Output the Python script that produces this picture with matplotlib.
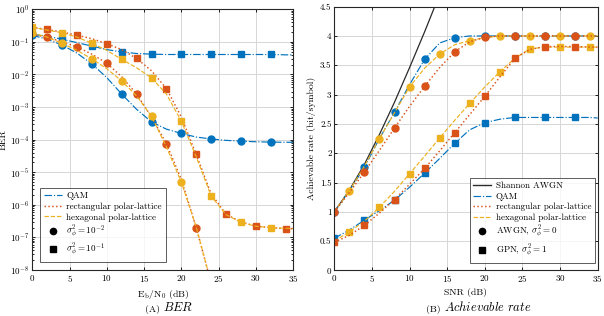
import numpy as np
import matplotlib
matplotlib.use("Agg")
import matplotlib.pyplot as plt
from matplotlib.lines import Line2D
from matplotlib.ticker import FormatStrFormatter, LogLocator, NullFormatter

plt.rcParams['font.family'] = ['cmr10', 'DejaVu Serif']
plt.rcParams['mathtext.fontset'] = 'cm'
plt.rcParams['axes.formatter.use_mathtext'] = True
plt.rcParams['axes.unicode_minus'] = False

# ---------------- data: BER panel ----------------
ebn0 = [0, 2, 4, 6, 8, 10, 12, 14, 16, 18, 20, 22, 24, 26, 28, 30, 32, 34, 35]
ber_qam_1e2 = [0.16, 0.12, 0.08, 0.045, 0.021, 8e-3, 2.5e-3, 8.5e-4, 3.5e-4, 2.1e-4,
               1.55e-4, 1.2e-4, 1.05e-4, 9.5e-5, 9e-5, 8.6e-5, 8.4e-5, 8.3e-5, 8.3e-5]
ber_qam_1e1 = [0.17, 0.15, 0.12, 0.095, 0.074, 0.058, 0.049, 0.044, 0.042, 0.041,
               0.041, 0.041, 0.041, 0.041, 0.041, 0.041, 0.041, 0.04, 0.04]
ber_rect_1e2 = [0.17, 0.14, 0.1, 0.07, 0.042, 0.022, 8.5e-3, 2.5e-3, 5e-4, 7.5e-5,
                6e-6, 2e-7, 4e-9, np.nan, np.nan, np.nan, np.nan, np.nan, np.nan]
ber_hex_1e2 = [0.19, 0.14, 0.09, 0.055, 0.03, 0.015, 6.3e-3, 2.2e-3, 5.2e-4, 6e-5,
               5e-6, 2.1e-7, 4e-9, np.nan, np.nan, np.nan, np.nan, np.nan, np.nan]
ber_rect_1e1 = [0.28, 0.24, 0.2, 0.16, 0.125, 0.088, 0.058, 0.031, 0.013, 3.7e-3,
                5e-4, 3.5e-5, 2.2e-6, 5.1e-7, 3e-7, 2.2e-7, 2e-7, 1.85e-7, 1.85e-7]
ber_hex_1e1 = [0.28, 0.23, 0.19, 0.14, 0.09, 0.055, 0.029, 0.016, 7.9e-3, 2.5e-3,
               3.7e-4, 3e-5, 1.87e-6, 5e-7, 2.9e-7, 2.2e-7, 2e-7, 1.9e-7, 1.9e-7]

# ---------------- data: achievable-rate panel ----------------
snr = [0, 2, 4, 6, 8, 10, 12, 14, 16, 18, 20, 22, 24, 26, 28, 30, 32, 34, 35]
shannon_snr = [0, 2, 4, 6, 8, 10, 12, 14]
shannon_rate = [1.0, 1.37, 1.81, 2.32, 2.87, 3.46, 4.07, 4.71]
rate_qam_awgn = [1.0, 1.36, 1.76, 2.25, 2.70, 3.17, 3.6, 3.88, 3.97, 4.0,
                 4.0, 4.0, 4.0, 4.0, 4.0, 4.0, 4.0, 4.0, 4.0]
rate_rect_awgn = [1.0, 1.33, 1.68, 2.05, 2.43, 2.8, 3.14, 3.46, 3.73, 3.9,
                  3.98, 4.0, 4.0, 4.0, 4.0, 4.0, 4.0, 4.0, 4.0]
rate_hex_awgn = [1.0, 1.36, 1.78, 2.25, 2.69, 3.13, 3.45, 3.69, 3.85, 3.92,
                 3.97, 4.0, 4.0, 4.0, 4.0, 4.0, 4.0, 4.0, 4.0]
rate_qam_gpn = [0.55, 0.69, 0.86, 1.02, 1.2, 1.42, 1.66, 1.91, 2.17, 2.4,
                2.52, 2.58, 2.61, 2.61, 2.61, 2.61, 2.61, 2.61, 2.6]
rate_rect_gpn = [0.48, 0.6, 0.77, 0.98, 1.21, 1.47, 1.74, 2.04, 2.35, 2.66,
                 2.97, 3.3, 3.62, 3.77, 3.82, 3.82, 3.82, 3.81, 3.81]
rate_hex_gpn = [0.5, 0.66, 0.84, 1.08, 1.35, 1.65, 1.95, 2.26, 2.56, 2.85,
                3.13, 3.39, 3.62, 3.78, 3.81, 3.81, 3.81, 3.81, 3.81]

C_QAM = '#0072BD'
C_RECT = '#D95319'
C_HEX = '#EDB120'

fig = plt.figure(figsize=(6.04, 3.16), dpi=100)
ax1 = fig.add_axes([0.0535, 0.1456, 0.4317, 0.825])
ax2 = fig.add_axes([0.5535, 0.144, 0.436, 0.835])

ms_s = 4.6
ms_c = 5.0
lw = 0.85
def idx(xs, marks):
    return [xs.index(m) for m in marks]

# BER curves
ax1.plot(ebn0, ber_qam_1e1, color=C_QAM, ls='-.', lw=lw, marker='s', ms=ms_s,
         markevery=idx(ebn0, [0, 4, 8, 12, 16, 20, 24, 28, 32]))
ax1.plot(ebn0, ber_rect_1e1, color=C_RECT, ls=':', lw=lw+0.2, marker='s', ms=ms_s,
         markevery=idx(ebn0, [2, 6, 10, 14, 18, 22, 26, 30, 34]))
ax1.plot(ebn0, ber_hex_1e1, color=C_HEX, ls='--', lw=lw, marker='s', ms=ms_s,
         markevery=idx(ebn0, [0, 4, 8, 12, 16, 20, 24, 28, 32]))
ax1.plot(ebn0, ber_qam_1e2, color=C_QAM, ls='-.', lw=lw, marker='o', ms=ms_c,
         markevery=idx(ebn0, [0, 4, 8, 12, 16, 20, 24, 28, 32]))
ax1.plot(ebn0, ber_rect_1e2, color=C_RECT, ls=':', lw=lw+0.2, marker='o', ms=ms_c,
         markevery=idx(ebn0, [2, 6, 10, 14, 18, 22]))
ax1.plot(ebn0, ber_hex_1e2, color=C_HEX, ls='--', lw=lw, marker='o', ms=ms_c,
         markevery=idx(ebn0, [0, 4, 8, 12, 16, 20]))

ax1.set_yscale('log')
ax1.set_xlim(0, 35)
ax1.set_ylim(1e-8, 1)
ax1.set_xticks([0, 5, 10, 15, 20, 25, 30, 35])
ax1.yaxis.set_major_locator(LogLocator(base=10, numticks=20))
ax1.yaxis.set_minor_locator(LogLocator(base=10, subs=np.arange(2, 10), numticks=100))
ax1.yaxis.set_minor_formatter(NullFormatter())
ax1.set_xlabel(r'$\mathrm{E_b/N_0}$ (dB)', fontsize=7, labelpad=3)
ax1.set_ylabel('BER', fontsize=7, labelpad=2)

# Rate curves
ax2.plot(shannon_snr, shannon_rate, color='#2a2a2a', ls='-', lw=0.9)
ax2.plot(snr, rate_qam_awgn, color=C_QAM, ls='-.', lw=lw, marker='o', ms=ms_c,
         markevery=idx(snr, [0, 4, 8, 12, 16, 20, 24, 28, 32]))
ax2.plot(snr, rate_hex_awgn, color=C_HEX, ls='--', lw=lw, marker='o', ms=ms_c,
         markevery=idx(snr, [2, 6, 10, 14, 18, 22, 26, 30, 34]))
ax2.plot(snr, rate_rect_awgn, color=C_RECT, ls=':', lw=lw+0.2, marker='o', ms=ms_c,
         markevery=idx(snr, [0, 4, 8, 12, 16, 20, 24, 28, 32]))
ax2.plot(snr, rate_qam_gpn, color=C_QAM, ls='-.', lw=lw, marker='s', ms=ms_s,
         markevery=idx(snr, [0, 4, 8, 12, 16, 20, 24, 28, 32]))
ax2.plot(snr, rate_hex_gpn, color=C_HEX, ls='--', lw=lw, marker='s', ms=ms_s,
         markevery=idx(snr, [2, 6, 10, 14, 18, 22, 26, 30, 34]))
ax2.plot(snr, rate_rect_gpn, color=C_RECT, ls=':', lw=lw+0.2, marker='s', ms=ms_s,
         markevery=idx(snr, [0, 4, 8, 12, 16, 20, 24, 28, 32]))

ax2.set_xlim(0, 35)
ax2.set_ylim(0, 4.5)
ax2.set_xticks([0, 5, 10, 15, 20, 25, 30, 35])
ax2.set_yticks(np.arange(0, 4.51, 0.5))
ax2.yaxis.set_major_formatter(FormatStrFormatter('%g'))
ax2.set_xlabel('SNR (dB)', fontsize=7, labelpad=3)
ax2.set_ylabel('Achievable rate (bit/symbol)', fontsize=7, labelpad=3)

for ax in (ax1, ax2):
    ax.grid(True, which='major', color='#d6d6d6', lw=0.7)
    ax.set_axisbelow(True)
    ax.tick_params(which='both', direction='in', top=True, right=True, labelsize=6.5,
                   length=2.5, width=0.6, pad=2)
    ax.tick_params(which='minor', length=1.5)
    for s in ax.spines.values():
        s.set_color('#262626')
        s.set_linewidth(0.8)

# legends
h_left = [
    Line2D([], [], color=C_QAM, ls='-.', lw=lw),
    Line2D([], [], color=C_RECT, ls=':', lw=lw+0.2),
    Line2D([], [], color=C_HEX, ls='--', lw=lw),
    Line2D([], [], color='black', ls='none', marker='o', ms=ms_c - 0.5),
    Line2D([], [], color='black', ls='none', marker='s', ms=ms_s - 0.6),
]
l_left = ['QAM', 'rectangular polar-lattice', 'hexagonal polar-lattice',
          r'$\sigma_\phi^2 = 10^{-2}$', r'$\sigma_\phi^2 = 10^{-1}$']
leg1 = ax1.legend(h_left, l_left, loc='lower left', bbox_to_anchor=(0.02, 0.02),
                  fontsize=6.5, frameon=True, fancybox=False, edgecolor='#333333',
                  handlelength=2.0, handletextpad=0.5, labelspacing=0.25,
                  borderpad=0.4, borderaxespad=0.3)
leg1.get_frame().set_linewidth(0.7)

h_right = [
    Line2D([], [], color='#2a2a2a', ls='-', lw=1.0),
    Line2D([], [], color=C_QAM, ls='-.', lw=lw),
    Line2D([], [], color=C_RECT, ls=':', lw=lw+0.2),
    Line2D([], [], color=C_HEX, ls='--', lw=lw),
    Line2D([], [], color='black', ls='none', marker='o', ms=ms_c - 0.5),
    Line2D([], [], color='black', ls='none', marker='s', ms=ms_s - 0.6),
]
l_right = ['Shannon AWGN', 'QAM', 'rectangular polar-lattice', 'hexagonal polar-lattice',
           r'AWGN, $\sigma_\phi^2 = 0$', r'GPN, $\sigma_\phi^2 = 1$']
leg2 = ax2.legend(h_right, l_right, loc='lower right', bbox_to_anchor=(1.0, 0.02),
                  fontsize=6.5, frameon=True, fancybox=False, edgecolor='#333333',
                  handlelength=2.0, handletextpad=0.5, labelspacing=0.25,
                  borderpad=0.4, borderaxespad=0.3)
leg2.get_frame().set_linewidth(0.7)

# captions
fig.text(0.27, 0.005, '(A) ', fontsize=7, ha='right', va='bottom')
fig.text(0.27, 0.005, r'$\mathit{BER}$', fontsize=9, ha='left', va='bottom')
fig.text(0.735, 0.005, '(B) ', fontsize=7, ha='right', va='bottom')
fig.text(0.735, 0.005, r'$\mathit{Achievable\ rate}$', fontsize=9, ha='left', va='bottom')

fig.savefig('out.png', dpi=100)
